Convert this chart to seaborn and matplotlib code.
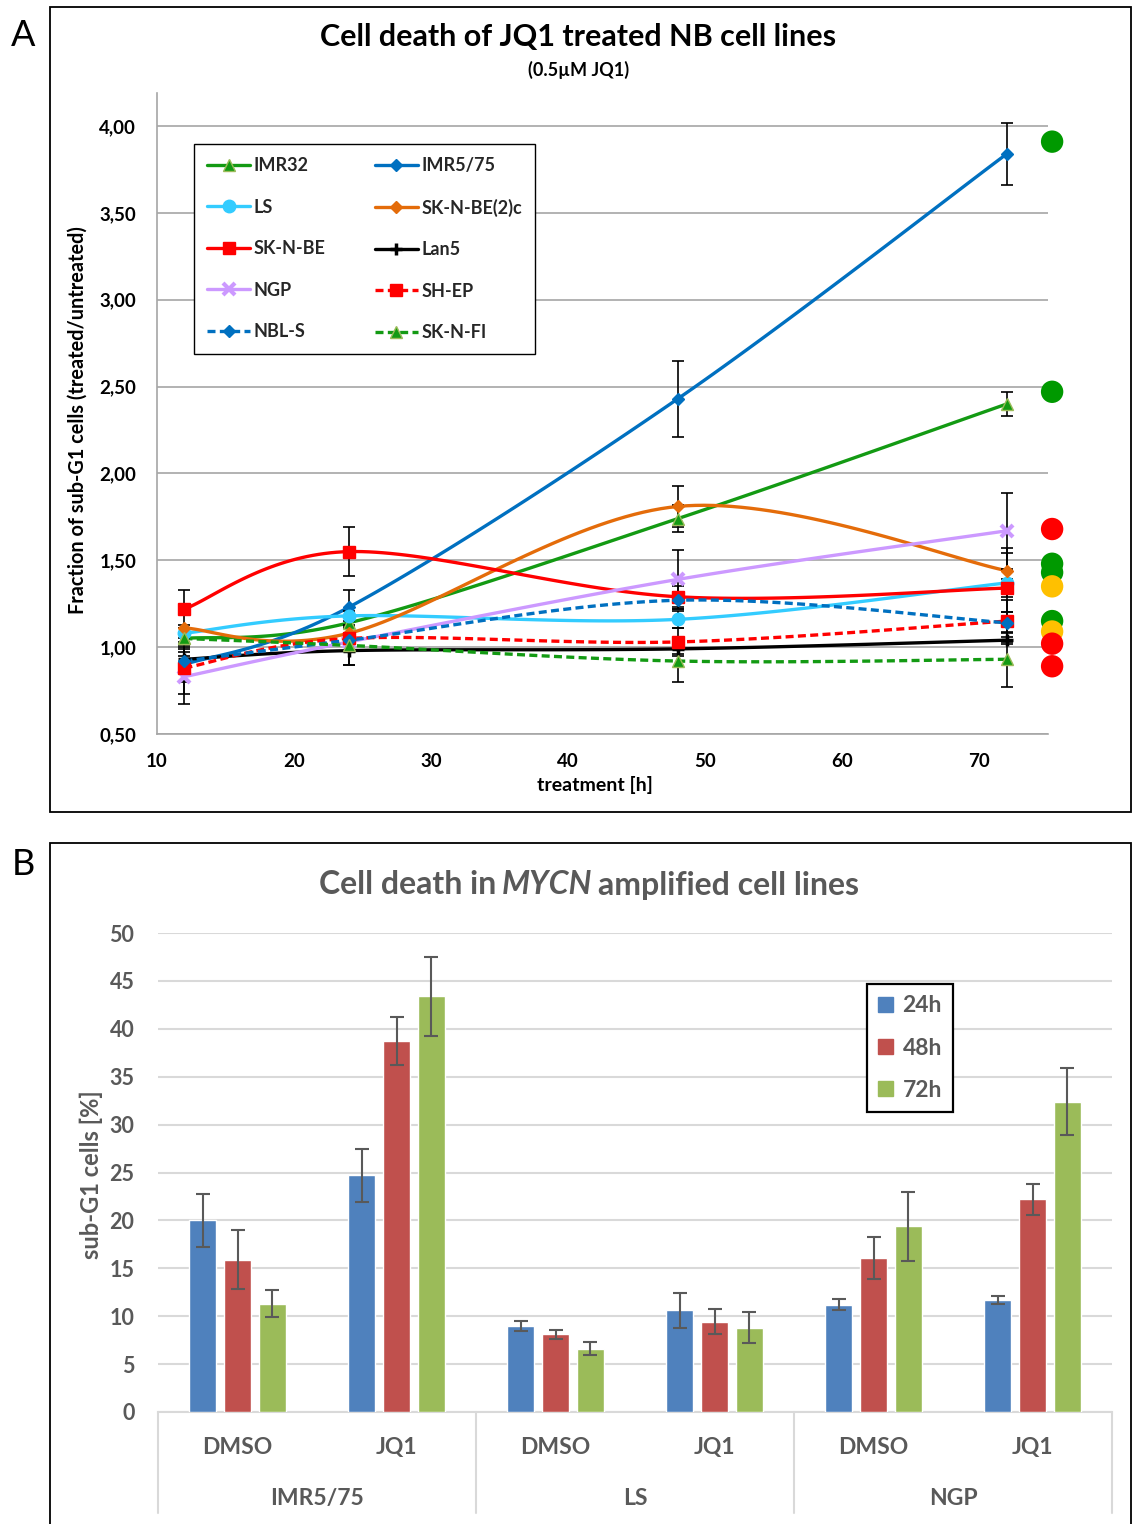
import numpy as np
import pandas as pd
import matplotlib
matplotlib.use("Agg")
import matplotlib.pyplot as plt
import seaborn as sns
from matplotlib.lines import Line2D
from matplotlib.patches import Rectangle, Patch

# ---------------- Panel A data: fraction of sub-G1 cells (treated/untreated) ----------------
hours = [12, 24, 48, 72]

imr32 = [1.05, 1.14, 1.74, 2.40]
imr32_err = [0.03, 0.03, 0.08, 0.07]
imr575 = [0.90, 1.23, 2.43, 3.84]
imr575_err = [0.10, 0.10, 0.22, 0.18]
ls_line = [1.08, 1.18, 1.16, 1.37]
ls_err = [0.03, 0.03, 0.05, 0.17]
sknbe2c = [1.11, 1.08, 1.81, 1.44]
sknbe2c_err = [0.02, 0.03, 0.12, 0.13]
sknbe = [1.22, 1.55, 1.29, 1.34]
sknbe_err = [0.11, 0.14, 0.06, 0.05]
lan5 = [0.93, 0.98, 0.99, 1.04]
lan5_err = [0.02, 0.08, 0.03, 0.02]
ngp = [0.83, 1.03, 1.39, 1.67]
ngp_err = [0.16, 0.03, 0.17, 0.22]
shep = [0.88, 1.05, 1.03, 1.15]
shep_err = [0.15, 0.03, 0.08, 0.12]
nbls = [0.92, 1.04, 1.27, 1.14]
nbls_err = [0.05, 0.03, 0.05, 0.06]
sknfi = [1.05, 1.01, 0.92, 0.93]
sknfi_err = [0.04, 0.11, 0.12, 0.16]

# status dots at the right edge of panel A
dot_values = [3.91, 2.47, 1.68, 1.48, 1.43, 1.35, 1.15, 1.09, 1.02, 0.89]
dot_colors = ["#009900", "#009900", "#FF0000", "#009900", "#009900", "#FFC000",
              "#009900", "#FFC000", "#FF0000", "#FF0000"]

# ---------------- Panel B data: sub-G1 cells [%] ----------------
cell_lines = ["IMR5/75", "LS", "NGP"]
treatments = ["DMSO", "JQ1"]
time_points = ["24h", "48h", "72h"]
sub_g1_24h = [20.0, 24.7, 9.0, 10.6, 11.2, 11.7]
sub_g1_48h = [15.9, 38.7, 8.1, 9.4, 16.1, 22.2]
sub_g1_72h = [11.3, 43.4, 6.6, 8.8, 19.4, 32.4]
err_24h = [2.8, 2.8, 0.5, 1.8, 0.6, 0.4]
err_48h = [3.1, 2.5, 0.5, 1.3, 2.2, 1.6]
err_72h = [1.4, 4.1, 0.7, 1.6, 3.6, 3.5]

sns.set_theme(style="white")
plt.rcParams["font.family"] = ["Lato", "DejaVu Sans"]
plt.rcParams["legend.numpoints"] = 1

W, H = 1132, 1524
fig = plt.figure(figsize=(W / 100, H / 100), dpi=100)


def fx(px):
    return px / W


def fy(py):
    return 1 - py / H


# ============================ Panel A ============================
axA = fig.add_axes([fx(157), fy(734), fx(1048) - fx(157), fy(93) - fy(734)])
axA.set_xlim(10, 75)
axA.set_ylim(0.5, 4.19)

SX, SY = 13.7, 173.7  # approx screen scale per data unit, used for smoothing shape


def smooth_curve(xs, ys, n=40):
    """Bezier smoothing through the points (spreadsheet-style smoothed line)."""
    P = np.column_stack([np.asarray(xs, float) * SX, np.asarray(ys, float) * SY])
    m = len(P)
    out = []
    for i in range(m - 1):
        p0 = P[max(i - 1, 0)]
        p1 = P[i]
        p2 = P[i + 1]
        p3 = P[min(i + 2, m - 1)]
        c1 = p1 + (p2 - p0) / 6.0
        c2 = p2 - (p3 - p1) / 6.0
        t = np.linspace(0, 1, n)[:, None]
        seg = ((1 - t) ** 3) * p1 + 3 * ((1 - t) ** 2) * t * c1 + 3 * (1 - t) * t ** 2 * c2 + t ** 3 * p2
        out.append(seg if i == 0 else seg[1:])
    out = np.vstack(out)
    return out[:, 0] / SX, out[:, 1] / SY


GREEN = "#139A13"
BLUE = "#0070C0"
CYAN = "#33CCFF"
ORANGE = "#E46C0A"
RED = "#FF0000"
LAV = "#CC99FF"
DASH = (0, (2.4, 1.3))

series = [
    ("IMR32", imr32, imr32_err, GREEN, "-", dict(marker="^", ms=9, mfc=GREEN, mec="#9BBB59", mew=1.0)),
    ("IMR5/75", imr575, imr575_err, BLUE, "-", dict(marker="D", ms=6, mfc=BLUE, mec=BLUE)),
    ("LS", ls_line, ls_err, CYAN, "-", dict(marker="o", ms=9, mfc=CYAN, mec=CYAN)),
    ("SK-N-BE(2)c", sknbe2c, sknbe2c_err, ORANGE, "-", dict(marker="D", ms=6.5, mfc=ORANGE, mec=ORANGE)),
    ("SK-N-BE", sknbe, sknbe_err, RED, "-", dict(marker="s", ms=8.5, mfc=RED, mec=RED)),
    ("Lan5", lan5, lan5_err, "black", "-", dict(marker="+", ms=9, mfc="black", mec="black", mew=2.5)),
    ("NGP", ngp, ngp_err, LAV, "-", dict(marker="x", ms=8, mfc=LAV, mec=LAV, mew=3)),
    ("SH-EP", shep, shep_err, RED, DASH, dict(marker="s", ms=8.5, mfc=RED, mec=RED)),
    ("NBL-S", nbls, nbls_err, BLUE, DASH, dict(marker="D", ms=6, mfc=BLUE, mec=BLUE)),
    ("SK-N-FI", sknfi, sknfi_err, GREEN, DASH, dict(marker="^", ms=9, mfc=GREEN, mec="#9BBB59", mew=1.0)),
]

handles = {}
for name, vals, errs, col, ls, mk in series:
    sx, sy = smooth_curve(hours, vals)
    axA.plot(sx, sy, color=col, lw=2.4, linestyle=ls, zorder=3, solid_capstyle="round")
    axA.errorbar(hours, vals, yerr=errs, fmt="none", ecolor="black", elinewidth=1.2,
                 capsize=4.5, capthick=1.2, zorder=4)
    axA.plot(hours, vals, linestyle="none", zorder=5, **mk)
    handles[name] = Line2D([], [], color=col, lw=2.4, linestyle=ls, **mk)

axA.scatter([75.3] * len(dot_values), dot_values, s=260, c=dot_colors, edgecolors="none",
            zorder=6, clip_on=False)

yt = np.arange(0.5, 4.01, 0.5)
axA.set_yticks(yt)
axA.set_yticklabels([f"{v:.2f}".replace(".", ",") for v in yt])
axA.set_xticks([10, 20, 30, 40, 50, 60, 70])
axA.grid(axis="y", color="#A6A6A6", lw=1.2)
axA.grid(axis="x", visible=False)
axA.set_axisbelow(True)
for side in ["top", "right"]:
    axA.spines[side].set_visible(False)
for side in ["left", "bottom"]:
    axA.spines[side].set_color("#A6A6A6")
    axA.spines[side].set_linewidth(1.2)
axA.tick_params(axis="both", direction="out", length=5, width=1.2, color="#A6A6A6",
                labelsize=13.5, labelcolor="black")
axA.tick_params(axis="y", pad=10)
axA.tick_params(axis="x", pad=9)
for lab in axA.get_xticklabels() + axA.get_yticklabels():
    lab.set_fontweight("bold")
axA.set_ylabel("Fraction of sub-G1 cells (treated/untreated)", fontsize=14.3, fontweight="bold",
               color="black")
axA.yaxis.set_label_coords(-0.078, 0.49)
axA.set_xlabel("treatment [h]", fontsize=14, fontweight="bold", color="black")
axA.xaxis.set_label_coords(0.492, -0.065)

order = ["IMR32", "LS", "SK-N-BE", "NGP", "NBL-S",
         "IMR5/75", "SK-N-BE(2)c", "Lan5", "SH-EP", "SK-N-FI"]
legA = axA.legend([handles[k] for k in order], order, ncol=2, loc="upper left",
                  bbox_to_anchor=(fx(194), fy(144)), bbox_transform=fig.transFigure,
                  frameon=True, fancybox=False, edgecolor="black", framealpha=1,
                  prop={"weight": "bold", "size": 13}, handlelength=2.4, handletextpad=0.2,
                  labelspacing=1.36, columnspacing=2.7, borderpad=0.72, borderaxespad=0)
legA.get_frame().set_linewidth(1.0)
legA.set_zorder(10)

fig.text(fx(578), fy(37), "Cell death of JQ1 treated NB cell lines", ha="center", va="center",
         fontsize=22, fontweight="bold", color="black")
fig.text(fx(579), fy(70), "(0.5µM JQ1)", ha="center", va="center", fontsize=13,
         fontweight="bold", color="black")

# ============================ Panel B ============================
GRAY = "#595959"
axB = fig.add_axes([fx(158), fy(1412), fx(1112) - fx(158), fy(933) - fy(1412)])

cond = [f"{c} {t}" for c in cell_lines for t in treatments]
dfB = pd.DataFrame({
    "condition": cond * 3,
    "time": np.repeat(time_points, len(cond)),
    "sub_g1": sub_g1_24h + sub_g1_48h + sub_g1_72h,
})
errs_by_time = {"24h": err_24h, "48h": err_48h, "72h": err_72h}
vals_by_time = {"24h": sub_g1_24h, "48h": sub_g1_48h, "72h": sub_g1_72h}

sns.barplot(data=dfB, x="condition", y="sub_g1", hue="time", order=cond, hue_order=time_points,
            palette=["#4F81BD", "#C0504D", "#9BBB59"], width=0.66, gap=0.23, errorbar=None,
            saturation=1, legend=False, ax=axB, zorder=3)

# error bars at the bar centres (bars sorted by position: 24h, 48h, 72h per condition)
bars = sorted(axB.patches, key=lambda p: p.get_x())
flat_vals, flat_errs = [], []
for i in range(len(cond)):
    for t in time_points:
        flat_vals.append(vals_by_time[t][i])
        flat_errs.append(errs_by_time[t][i])
bx = [p.get_x() + p.get_width() / 2 for p in bars]
axB.errorbar(bx, flat_vals, yerr=flat_errs, fmt="none", ecolor="#595959", elinewidth=1.5,
             capsize=5, capthick=1.5, zorder=5)

axB.set_xlim(-0.5, 5.5)
axB.set_ylim(0, 50)
axB.set_yticks(range(0, 51, 5))
axB.grid(axis="y", color="#D9D9D9", lw=1.5)
axB.grid(axis="x", visible=False)
axB.set_axisbelow(True)
for side in ["top", "right", "left"]:
    axB.spines[side].set_visible(False)
axB.spines["bottom"].set_color("#D9D9D9")
axB.spines["bottom"].set_linewidth(1.5)
axB.set_xticks([])
axB.set_xlabel("")
axB.tick_params(axis="y", length=0, pad=17, labelsize=15.5, labelcolor=GRAY)
for lab in axB.get_yticklabels():
    lab.set_fontweight("bold")
axB.set_ylabel("sub-G1 cells [%]", fontsize=17, fontweight="bold", color=GRAY)
axB.yaxis.set_label_coords(-0.058, 0.495)

trans = matplotlib.transforms.blended_transform_factory(axB.transData, axB.transAxes)
for i, c in enumerate(cond):
    axB.text(i, -0.075, c.split(" ")[1], transform=trans, ha="center", va="center",
             fontsize=16.5, fontweight="bold", color=GRAY)
for j, cl in enumerate(cell_lines):
    axB.text(2 * j + 0.5, -0.181, cl, transform=trans, ha="center", va="center",
             fontsize=16.5, fontweight="bold", color=GRAY)
for xs in [-0.5, 1.5, 3.5, 5.5]:
    axB.plot([xs, xs], [0, -0.21], transform=trans, color="#D9D9D9", lw=1.5, clip_on=False)

legB = axB.legend([Patch(color=c) for c in ["#4F81BD", "#C0504D", "#9BBB59"]], time_points,
                  loc="upper left", bbox_to_anchor=(fx(867), fy(984)), bbox_transform=fig.transFigure,
                  frameon=True, fancybox=False, edgecolor="black", framealpha=1,
                  prop={"weight": "bold", "size": 16.5}, handlelength=0.65, handleheight=0.65,
                  handletextpad=0.4, labelspacing=0.92, borderpad=0.5, borderaxespad=0)
legB.get_frame().set_linewidth(1.6)
for t in legB.get_texts():
    t.set_color(GRAY)

# title with italic gene name, assembled from three pieces
renderer = fig.canvas.get_renderer()
kw = dict(fontsize=23, fontweight="bold", color=GRAY, va="center", ha="left")
p1 = fig.text(0, fy(885), "Cell death in", **kw)
p2 = fig.text(0, fy(885), "MYCN", style="italic", **kw)
p3 = fig.text(0, fy(885), "amplified cell lines", **kw)
gap = 6
widths = [p.get_window_extent(renderer).width for p in (p1, p2, p3)]
total = sum(widths) + 2 * gap
x0 = 589 - total / 2
for p, w in zip((p1, p2, p3), widths):
    p.set_x(fx(x0))
    x0 += w + gap

# ============================ frames & panel letters ============================
fig.add_artist(Rectangle((fx(50), fy(812)), fx(1131) - fx(50), fy(7) - fy(812),
                         transform=fig.transFigure, fill=False, ec="black", lw=1.3))
fig.add_artist(Rectangle((fx(50), fy(1540)), fx(1131) - fx(50), fy(843) - fy(1540),
                         transform=fig.transFigure, fill=False, ec="black", lw=1.3, clip_on=False))
fig.text(fx(23), fy(35), "A", ha="center", va="center", fontsize=26, color="black")
fig.text(fx(23), fy(865), "B", ha="center", va="center", fontsize=26, color="black")

fig.savefig("out.png", dpi=100)
